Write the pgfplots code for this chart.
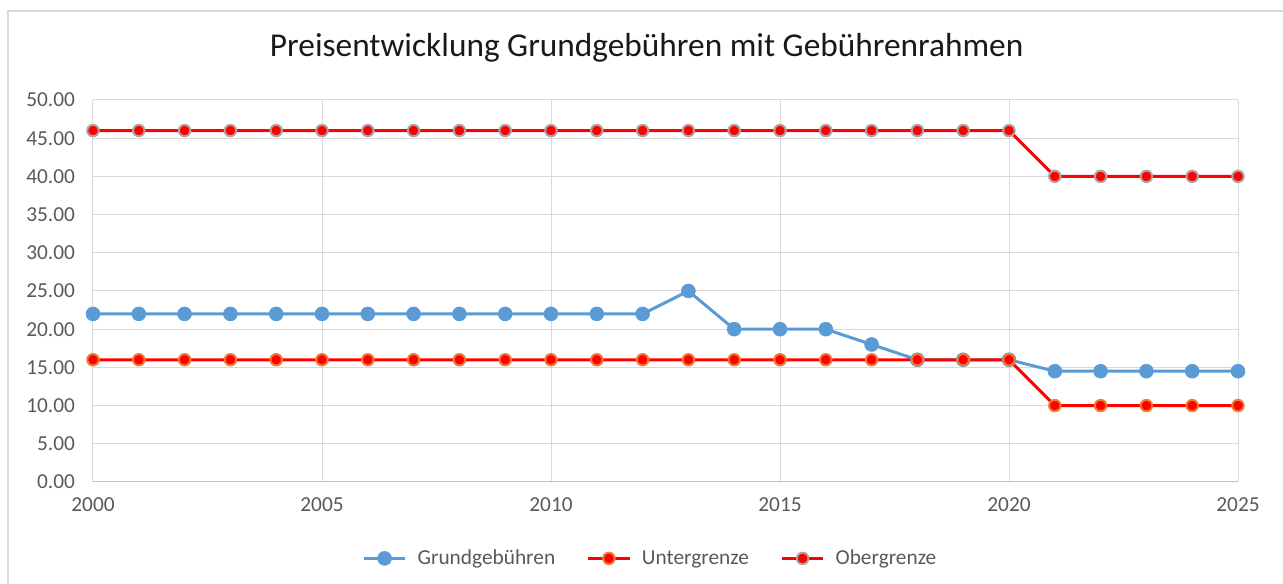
\documentclass[border=0pt]{standalone}
\usepackage{pgfplots}
\pgfplotsset{compat=1.18}
\usepackage{fontspec}
\setmainfont{Carlito}
\definecolor{gblue}{HTML}{5B9BD5}
\definecolor{gorange}{HTML}{ED7D31}
\definecolor{ggray}{HTML}{A5A5A5}
\definecolor{gridc}{HTML}{D9D9D9}
\definecolor{txt}{HTML}{595959}
\begin{document}
\begin{tikzpicture}
\useasboundingbox (0,0) rectangle (962.25pt,438pt);
\draw[gridc, line width=1.5pt] (6pt,-10pt) |- (975pt,429.75pt);
\node[font=\fontsize{25}{30}\selectfont, text=black!90] at (485pt,402pt) {Preisentwicklung Grundgebühren mit Gebührenrahmen};
\begin{axis}[
  at={(69.75pt,76.5pt)}, anchor=south west,
  scale only axis, width=858.75pt, height=286.5pt,
  xmin=2000, xmax=2025, ymin=0, ymax=50,
  xtick={2000,2005,...,2025}, ytick={0,5,...,50},
  grid=major, grid style={gridc, line width=0.75pt},
  axis line style={draw=gridc, line width=0.75pt},
  axis x line*=bottom, axis y line*=left,
  x axis line style={draw=ggray!70},
  tick style={draw=none},
  /pgf/number format/assume math mode=true,
  ticklabel style={font=\fontsize{16}{19}\selectfont, text=txt},
  xticklabel style={/pgf/number format/1000 sep={}, yshift=-8pt},
  yticklabel style={/pgf/number format/fixed, /pgf/number format/fixed zerofill, /pgf/number format/precision=2, xshift=-10pt},
  legend style={at={(0.487,-0.2)}, anchor=center, draw=none, fill=none,
     font=\fontsize{16}{19}\selectfont, text=txt, legend columns=3,
     /tikz/every even column/.append style={column sep=21.5pt}},
  legend cell align=left,
  legend image code/.code={\draw[mark repeat=2,mark phase=2,#1] plot coordinates {(0cm,0cm) (0.55cm,0cm) (1.1cm,0cm)}; \path (1.1cm+6pt,0);},
  clip=false,
]
\addplot[gblue, line width=2.25pt, mark=*, mark size=5.2pt, mark options={fill=gblue, draw=gblue, line width=0.5pt}] coordinates {
(2000,22)(2001,22)(2002,22)(2003,22)(2004,22)(2005,22)(2006,22)(2007,22)(2008,22)(2009,22)(2010,22)(2011,22)(2012,22)
(2013,25)(2014,20)(2015,20)(2016,20)(2017,18)(2018,16)(2019,16)(2020,16)
(2021,14.5)(2022,14.5)(2023,14.5)(2024,14.5)(2025,14.5)};
\addlegendentry{Grundgebühren}
\addplot[red, line width=2.25pt, mark=*, mark size=4.3pt, mark options={fill=red, draw=gorange, line width=1.5pt}] coordinates {
(2000,16)(2001,16)(2002,16)(2003,16)(2004,16)(2005,16)(2006,16)(2007,16)(2008,16)(2009,16)(2010,16)(2011,16)(2012,16)
(2013,16)(2014,16)(2015,16)(2016,16)(2017,16)(2018,16)(2019,16)(2020,16)
(2021,10)(2022,10)(2023,10)(2024,10)(2025,10)};
\addlegendentry{Untergrenze}
\addplot[red, line width=2.25pt, mark=*, mark size=4.3pt, mark options={fill=red, draw=ggray, line width=1.5pt}] coordinates {
(2000,46)(2001,46)(2002,46)(2003,46)(2004,46)(2005,46)(2006,46)(2007,46)(2008,46)(2009,46)(2010,46)(2011,46)(2012,46)
(2013,46)(2014,46)(2015,46)(2016,46)(2017,46)(2018,46)(2019,46)(2020,46)
(2021,40)(2022,40)(2023,40)(2024,40)(2025,40)};
\addlegendentry{Obergrenze}
\end{axis}
\end{tikzpicture}
\end{document}
